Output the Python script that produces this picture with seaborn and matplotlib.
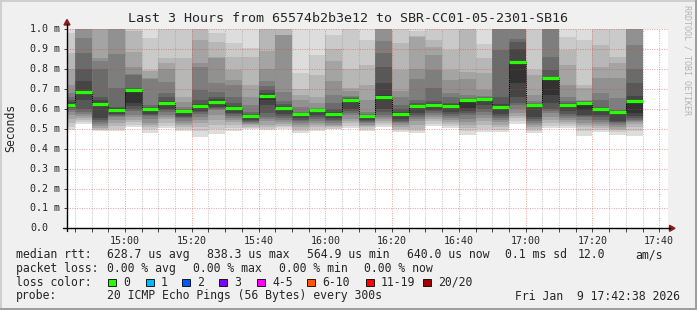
import numpy as np
import pandas as pd
import matplotlib
matplotlib.use("Agg")
import matplotlib.pyplot as plt
import matplotlib.transforms as mtransforms
from matplotlib.patches import Polygon, Rectangle
import seaborn as sns

# ---------------- data (milliseconds) ----------------
slot_starts = pd.date_range("2026-01-09 14:40", periods=35, freq="5min")
slot_minutes = 5

median_rtt = [0.620, 0.687, 0.625, 0.596, 0.697, 0.601, 0.631, 0.591, 0.616, 0.637,
              0.605, 0.565, 0.667, 0.606, 0.575, 0.596, 0.576, 0.643, 0.565, 0.662,
              0.575, 0.615, 0.620, 0.615, 0.647, 0.650, 0.610, 0.838, 0.620, 0.755,
              0.620, 0.630, 0.600, 0.585, 0.640]

# 20 sorted ping times per 5-minute slot
p1440 = [0.495,0.51,0.53,0.55,0.57,0.585,0.595,0.605,0.61,0.615, 0.625,0.635,0.645,0.66,0.68,0.72,0.80,0.88,0.98,1.10]
p1445 = [0.526,0.535,0.545,0.555,0.565,0.575,0.585,0.60,0.645,0.675, 0.69,0.74,0.80,0.88,0.958,1.01,1.05,1.2,1.3,1.4]
p1450 = [0.489,0.495,0.50,0.505,0.515,0.525,0.535,0.545,0.556,0.62, 0.63,0.645,0.66,0.80,0.84,0.855,1.02,1.05,1.1,1.2]
p1455 = [0.489,0.50,0.515,0.53,0.545,0.56,0.565,0.57,0.575,0.59, 0.600,0.605,0.61,0.703,0.874,1.01,1.05,1.1,1.15,1.2]
p1500 = [0.511,0.52,0.535,0.545,0.56,0.57,0.59,0.60,0.615,0.63, 0.699,0.70,0.705,0.77,0.775,0.812,0.885,0.99,1.05,1.1]
p1505 = [0.481,0.50,0.51,0.52,0.53,0.55,0.565,0.57,0.575,0.598, 0.603,0.606,0.61,0.62,0.75,0.754,0.79,0.796,0.955,1.05]
p1510 = [0.503,0.515,0.53,0.55,0.56,0.57,0.585,0.595,0.60,0.628, 0.635,0.64,0.66,0.678,0.735,0.80,0.83,0.854,1.01,1.05]
p1515 = [0.491,0.50,0.51,0.52,0.53,0.54,0.555,0.56,0.565,0.588, 0.593,0.594,0.595,0.597,0.612,0.637,0.66,0.854,1.01,1.05]
p1520 = [0.461,0.49,0.51,0.53,0.545,0.56,0.575,0.585,0.59,0.612, 0.62,0.625,0.645,0.695,0.81,0.83,0.946,1.01,1.05,1.1]
p1525 = [0.474,0.50,0.52,0.545,0.57,0.595,0.60,0.605,0.612,0.63, 0.64,0.65,0.662,0.687,0.729,0.854,0.863,0.938,0.98,1.02]
p1530 = [0.491,0.505,0.52,0.535,0.545,0.555,0.565,0.575,0.58,0.603, 0.609,0.615,0.628,0.66,0.72,0.745,0.796,0.863,0.93,1.02]
p1535 = [0.497,0.505,0.51,0.52,0.525,0.53,0.535,0.54,0.545,0.563, 0.568,0.571,0.575,0.586,0.62,0.66,0.72,0.863,0.905,1.02]
p1540 = [0.494,0.50,0.51,0.52,0.54,0.55,0.56,0.58,0.62,0.645, 0.67,0.68,0.695,0.715,0.74,0.80,0.89,1.01,1.05,1.1]
p1545 = [0.50,0.51,0.515,0.525,0.535,0.545,0.555,0.565,0.575,0.60, 0.61,0.615,0.625,0.64,0.687,0.97,0.972,1.01,1.05,1.1]
p1550 = [0.481,0.49,0.50,0.51,0.52,0.53,0.54,0.545,0.555,0.572, 0.577,0.578,0.58,0.585,0.61,0.645,0.67,0.70,0.78,1.02]
p1555 = [0.491,0.50,0.51,0.52,0.53,0.54,0.55,0.56,0.57,0.594, 0.597,0.598,0.600,0.601,0.603,0.628,0.662,0.771,0.871,1.02]
p1600 = [0.497,0.50,0.51,0.515,0.52,0.53,0.54,0.545,0.555,0.572, 0.58,0.585,0.60,0.63,0.67,0.74,0.84,0.90,0.97,1.02]
p1605 = [0.503,0.515,0.53,0.54,0.55,0.57,0.58,0.59,0.60,0.64, 0.648,0.65,0.655,0.66,0.665,0.69,0.705,0.80,1.01,1.05]
p1610 = [0.491,0.50,0.51,0.515,0.52,0.53,0.535,0.54,0.545,0.562, 0.566,0.568,0.57,0.575,0.586,0.645,0.72,0.82,0.946,1.02]
p1615 = [0.511,0.52,0.53,0.54,0.55,0.56,0.57,0.585,0.60,0.655, 0.67,0.73,0.81,0.88,0.94,1.01,1.02,1.05,1.1,1.15]
p1620 = [0.486,0.495,0.50,0.51,0.52,0.53,0.535,0.54,0.55,0.572, 0.578,0.585,0.60,0.62,0.66,0.69,0.795,0.93,1.01,1.02]
p1625 = [0.481,0.49,0.50,0.52,0.54,0.55,0.56,0.57,0.58,0.612, 0.618,0.622,0.63,0.645,0.75,0.80,0.96,0.965,0.99,1.02]
p1630 = [0.514,0.525,0.54,0.55,0.56,0.57,0.58,0.59,0.595,0.615, 0.625,0.63,0.64,0.705,0.795,0.87,0.91,0.945,1.01,1.05]
p1635 = [0.503,0.515,0.525,0.535,0.545,0.555,0.565,0.575,0.585,0.61, 0.62,0.625,0.63,0.66,0.68,0.745,0.796,0.896,1.01,1.05]
p1640 = [0.469,0.49,0.505,0.52,0.535,0.55,0.57,0.58,0.59,0.605, 0.649,0.65,0.652,0.655,0.67,0.75,0.785,1.01,1.02,1.05]
p1645 = [0.486,0.50,0.52,0.54,0.555,0.57,0.585,0.60,0.62,0.645, 0.652,0.653,0.655,0.658,0.665,0.695,0.78,0.855,0.925,1.02]
p1650 = [0.486,0.495,0.51,0.52,0.535,0.545,0.555,0.565,0.575,0.605, 0.615,0.625,0.66,0.896,1.01,1.02,1.05,1.1,1.15,1.2]
p1655 = [0.524,0.54,0.555,0.565,0.58,0.60,0.62,0.63,0.66,0.73, 0.84,0.90,0.935,0.95,1.02,1.1,1.15,1.2,1.25,1.3]
p1700 = [0.481,0.49,0.50,0.51,0.52,0.53,0.54,0.55,0.56,0.61, 0.621,0.622,0.625,0.63,0.64,0.67,0.77,0.796,1.01,1.05]
p1705 = [0.503,0.515,0.53,0.545,0.56,0.58,0.59,0.60,0.63,0.67, 0.757,0.76,0.796,0.863,1.01,1.02,1.05,1.1,1.2,1.3]
p1710 = [0.503,0.515,0.525,0.535,0.545,0.555,0.565,0.575,0.59,0.615, 0.622,0.625,0.63,0.64,0.66,0.72,0.82,0.896,0.96,1.02]
p1715 = [0.464,0.49,0.51,0.52,0.53,0.545,0.56,0.565,0.57,0.595, 0.632,0.633,0.635,0.638,0.64,0.645,0.705,0.72,0.946,1.02]
p1720 = [0.486,0.495,0.505,0.515,0.525,0.535,0.545,0.56,0.57,0.595, 0.602,0.605,0.61,0.645,0.678,0.754,0.812,0.92,1.01,1.05]
p1725 = [0.469,0.485,0.495,0.50,0.51,0.52,0.53,0.535,0.54,0.583, 0.587,0.588,0.59,0.594,0.653,0.754,0.83,0.863,1.01,1.05]
p1730 = [0.464,0.49,0.51,0.525,0.535,0.54,0.545,0.555,0.565,0.58, 0.645,0.665,0.73,0.80,0.92,1.01,1.05,1.1,1.15,1.2]

ping_sets = [p1440, p1445, p1450, p1455, p1500, p1505, p1510, p1515, p1520, p1525,
             p1530, p1535, p1540, p1545, p1550, p1555, p1600, p1605, p1610, p1615,
             p1620, p1625, p1630, p1635, p1640, p1645, p1650, p1655, p1700, p1705,
             p1710, p1715, p1720, p1725, p1730]

x_tick_labels = ["15:00", "15:20", "15:40", "16:00", "16:20", "16:40", "17:00", "17:20", "17:40"]
y_tick_labels = ["0.0", "0.1 m", "0.2 m", "0.3 m", "0.4 m", "0.5 m", "0.6 m", "0.7 m", "0.8 m", "0.9 m", "1.0 m"]

title = "Last 3 Hours from 65574b2b3e12 to SBR-CC01-05-2301-SB16"
row_rtt = [("median rtt:", 16), ("628.7 us avg", 107), ("838.3 us max", 207), ("564.9 us min", 307),
           ("640.0 us now", 407), ("0.1 ms sd", 505), ("12.0", 578), ("am/s", 635)]
row_loss = [("packet loss:", 16), ("0.00 % avg", 107), ("0.00 % max", 193), ("0.00 % min", 279),
            ("0.00 % now", 364)]
loss_labels = ["0", "1", "2", "3", "4-5", "6-10", "11-19", "20/20"]
loss_colors = ["#26ff00", "#00b8ff", "#0059ff", "#7e00ff", "#ff00ff", "#ff5500", "#ff0000", "#a10000"]
probe_text = "20 ICMP Echo Pings (56 Bytes) every 300s"
stamp_text = "Fri Jan  9 17:42:38 2026"

# ---------------- drawing ----------------
sns.set_theme(style="white")
plt.rcParams["font.family"] = ["DejaVu Sans Mono"]

W, H = 697, 310
fig = plt.figure(figsize=(W / 100, H / 100), dpi=100, facecolor="#f0f0f0")


def fx(px):
    return px / W


def fy(py):
    return 1 - py / H


AX_L, AX_R, AX_T, AX_B = 67, 668, 29.3, 228.3
ax = fig.add_axes([fx(AX_L), fy(AX_B), (AX_R - AX_L) / W, (AX_B - AX_T) / H])
ax.set_facecolor("white")
for s in ax.spines.values():
    s.set_visible(False)

starts = np.array(slot_starts.hour * 60 + slot_starts.minute, dtype=float)
pings = np.array(ping_sets)
band_grays = [221, 202, 183, 164, 145, 126, 107, 88, 69, 50]
for k, g in enumerate(band_grays):
    lo = pings[:, k]
    hi = pings[:, 19 - k]
    ax.bar(starts, hi - lo, bottom=lo, width=slot_minutes, align="edge",
           color=(g / 255, g / 255, g / 255), linewidth=0, antialiased=False, zorder=1)

# grid
t0 = 14 * 60 + 42 + 38 / 60
t1 = 17 * 60 + 42 + 38 / 60
for m in range(885, 1063, 5):
    if m % 20 == 0:
        ax.axvline(m, color="#d04040", alpha=0.45, lw=0.75, ls=(0, (1, 1.3)), zorder=3)
    else:
        ax.axvline(m, color="#909090", alpha=0.5, lw=0.75, ls=(0, (1, 1.3)), zorder=3)
for v in np.arange(0.1, 1.01, 0.1):
    ax.axhline(v, color="#d04040", alpha=0.45, lw=0.75, ls=(0, (1, 1.3)), zorder=3)

# median step connectors and median segments
step_x = list(starts) + [starts[-1] + slot_minutes]
step_y = list(median_rtt) + [median_rtt[-1]]
sns.lineplot(x=step_x, y=step_y, drawstyle="steps-post", color="black", lw=0.7,
             linestyle=(0, (1, 1)), ax=ax, zorder=5, legend=False)
ax.hlines(median_rtt, starts, starts + slot_minutes, color=loss_colors[0], lw=2.3, zorder=6)

ax.set_xlim(t0, t1)
ax.set_ylim(0, 1.0)
ax.set_xticks([900 + 20 * i for i in range(len(x_tick_labels))])
ax.set_xticklabels(x_tick_labels, fontsize=7.2)
ax.set_xticks(list(range(885, 1063, 5)), minor=True)
ax.tick_params(axis="x", which="both", length=3, width=0.7, color="#404040",
               direction="out", pad=2.5, bottom=True)
ax.set_yticks(np.arange(0, 1.01, 0.1))
ax.set_yticklabels([])
ax.tick_params(axis="y", which="major", length=2.5, width=0.7, color="#404040",
               direction="out", left=True)
ax.set_xlabel("")
ax.set_ylabel("")
ax.grid(False)

blend = mtransforms.blended_transform_factory(fig.transFigure, ax.transData)
for v, lab in zip(np.arange(0, 1.01, 0.1), y_tick_labels):
    fig.text(fx(30), v, lab, transform=blend, ha="left", va="center", fontsize=7.2)

# axis lines and arrows
arrow_c = "#8b1a1a"
fig.add_artist(plt.Line2D([fx(63), fx(670)], [fy(AX_B), fy(AX_B)], color="black", lw=1.0))
fig.add_artist(plt.Line2D([fx(AX_L), fx(AX_L)], [fy(231), fy(24)], color="black", lw=1.0))
fig.add_artist(Polygon([[fx(AX_L), fy(19.5)], [fx(AX_L - 3), fy(25)], [fx(AX_L + 3), fy(25)]],
                       closed=True, color=arrow_c, transform=fig.transFigure))
fig.add_artist(Polygon([[fx(675), fy(AX_B)], [fx(669.5), fy(AX_B - 3)], [fx(669.5), fy(AX_B + 3)]],
                       closed=True, color=arrow_c, transform=fig.transFigure))

# texts
fig.text(fx(347.5), fy(19), title, ha="center", va="center", fontsize=9.6)
fig.text(fx(11), fy(128), "Seconds", rotation=90, ha="center", va="center", fontsize=8.3)
fig.text(fx(687), fy(5), "RRDTOOL / TOBI OETIKER", rotation=270, ha="center", va="top",
         fontsize=6.0, color="#b4b4b4")

LEG = 8.3
for txt, x in row_rtt:
    fig.text(fx(x), fy(254.5), txt, ha="left", va="center", fontsize=LEG)
for txt, x in row_loss:
    fig.text(fx(x), fy(268.3), txt, ha="left", va="center", fontsize=LEG)
fig.text(fx(16), fy(282.3), "loss color:", ha="left", va="center", fontsize=LEG)
box_x = [108, 146, 182, 219, 257, 307, 366, 423]
for bx, lab, col in zip(box_x, loss_labels, loss_colors):
    fig.add_artist(Rectangle((fx(bx), fy(286)), 7.5 / W, 7.5 / H, facecolor=col,
                             edgecolor="black", lw=0.6, transform=fig.transFigure))
    fig.text(fx(bx + 15), fy(282.3), lab, ha="left", va="center", fontsize=LEG)
fig.text(fx(16), fy(296), "probe:", ha="left", va="center", fontsize=LEG)
fig.text(fx(107), fy(296), probe_text, ha="left", va="center", fontsize=LEG)
fig.text(fx(680), fy(296), stamp_text, ha="right", va="center", fontsize=LEG)

# outer shaded frame
fig.add_artist(Rectangle((0, 1 - 2 / H), 1, 2 / H, facecolor="#cfcfcf", lw=0, transform=fig.transFigure))
fig.add_artist(Rectangle((0, 0), 2 / W, 1, facecolor="#cfcfcf", lw=0, transform=fig.transFigure))
fig.add_artist(Rectangle((0, 0), 1, 2 / H, facecolor="#9e9e9e", lw=0, transform=fig.transFigure))
fig.add_artist(Rectangle((1 - 2 / W, 0), 2 / W, 1, facecolor="#9e9e9e", lw=0, transform=fig.transFigure))

fig.savefig("out.png", dpi=100, facecolor=fig.get_facecolor())
